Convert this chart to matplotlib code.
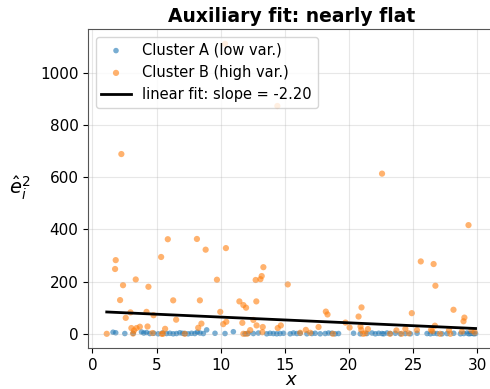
import numpy as np
import matplotlib
matplotlib.use("Agg")
import matplotlib.pyplot as plt

# Cluster A (low variance) - squared residuals near zero
a_x = [1.61, 1.82, 2.53, 3.18, 3.83, 4.01, 4.22, 4.48, 4.79, 5.13, 5.47, 5.78,
       6.04, 6.30, 6.56, 6.82, 7.03, 7.21, 7.47, 7.73, 7.99, 8.18, 8.39, 8.65,
       8.91, 9.56, 10.34, 10.99, 11.90, 12.16, 12.55, 12.94, 13.59, 13.85, 14.11,
       14.37, 14.63, 14.90, 15.42, 15.68, 15.94, 16.20, 16.72, 17.11, 17.37,
       17.76, 18.15, 18.41, 18.67, 18.93, 19.19, 20.36, 20.88, 21.40, 21.80,
       22.06, 22.32, 22.58, 22.71, 22.97, 23.23, 23.62, 24.01, 24.40, 24.79,
       25.31, 26.09, 26.35, 26.61, 26.87, 27.26, 27.65, 28.17, 28.69, 28.95,
       29.21, 29.35, 29.48, 29.61, 29.74, 29.87]
a_y = [6, 4, 1, 2, 7, 3, 5, 1, 2, 0, 3, 1,
       2, 0, 1, 4, 2, 1, 0, 2, 1, 6, 3, 1,
       15, 2, 1, 8, 0, 2, 1, 3, 0, 2, 1,
       0, 1, 2, 0, 3, 1, 2, 0, 1, 2,
       0, 1, 3, 2, 0, 1, 2, 0, 1, 3,
       0, 2, 1, 0, 3, 1, 2, 0, 1, 0,
       2, 1, 0, 2, 1, 0, 1, 2, 0, 1,
       3, 0, 1, 2, 0, 1]

# Cluster B (high variance)
b_x = [1.12, 1.77, 1.82, 2.16, 2.26, 2.39, 2.60, 2.97, 3.04, 3.17, 3.25, 3.38,
       3.44, 3.70, 4.22, 4.30, 4.37, 4.69, 4.77, 5.36, 5.41, 5.50, 5.67, 5.88,
       6.30, 6.53, 7.20, 8.15, 8.25, 8.38, 8.50, 8.83, 9.71, 9.97, 10.20, 10.34,
       10.41, 10.44, 11.46, 11.69, 11.77, 11.77, 11.98, 12.05, 12.30, 12.55,
       12.73, 12.78, 12.80, 13.10, 13.20, 13.25, 13.28, 13.33, 14.42, 14.45,
       14.69, 15.23, 16.20, 16.64, 16.98, 17.63, 18.20, 18.33, 18.75, 19.73,
       20.05, 20.75, 20.90, 20.96, 20.98, 21.10, 21.27, 21.48, 22.58, 23.20,
       23.70, 24.10, 24.40, 24.66, 24.90, 25.30, 25.60, 26.40, 26.50, 26.60,
       26.70, 26.74, 27.10, 27.80, 27.90, 28.15, 28.80, 28.93, 29.00, 29.32,
       29.55, 29.80]
b_y = [0, 248, 282, 129, 688, 186, 61, 82, 22, 1, 13, 208,
       22, 27, 84, 28, 180, 3, 71, 294, 0, 0, 19, 362,
       128, 54, 0, 363, 23, 128, 39, 322, 207, 84, 37, 1110,
       328, 46, 124, 42, 110, 0, 100, 0, 14, 53,
       206, 124, 32, 209, 221, 6, 26, 255, 872, 22,
       32, 189, 4, 15, 4, 26, 85, 74, 0, 43,
       24, 66, 28, 15, 101, 0, 2, 18, 613, 0,
       13, 0, 19, 2, 79, 14, 277, 15, 10, 267,
       31, 184, 0, 14, 0, 92, 8, 48, 62, 416,
       13, 5]

# auxiliary regression fit
fit_slope = -2.20
fit_intercept = 86.0

fig = plt.figure(figsize=(4.9, 3.89), dpi=100)
ax = fig.add_axes([88.3 / 490, 1 - 348.3 / 389, (494 - 88.3) / 490, (348.3 - 29.3) / 389])

ax.scatter(a_x, a_y, s=16, color='tab:blue', alpha=0.6, edgecolors='none',
           label='Cluster A (low var.)')
ax.scatter(b_x, b_y, s=20, color='tab:orange', alpha=0.6, edgecolors='none',
           label='Cluster B (high var.)')

all_x = np.array(a_x + b_x)
xs = np.linspace(all_x.min(), all_x.max(), 50)
ax.plot(xs, fit_intercept + fit_slope * xs, color='black', lw=2,
        label=f'linear fit: slope = {fit_slope:.2f}')

ax.set_title('Auxiliary fit: nearly flat', fontsize=13.5, fontweight='bold', pad=5)
ax.set_xlabel('$x$', fontsize=13, labelpad=-1.5)
ax.set_ylabel(r'$\hat{e}_i^2$', fontsize=14, rotation=0, labelpad=12)
ax.yaxis.set_label_coords(-0.17, 0.46)
ax.tick_params(labelsize=11)
ax.set_xticks([0, 5, 10, 15, 20, 25, 30])
ax.set_yticks([0, 200, 400, 600, 800, 1000])
ax.grid(True, alpha=0.3)
for sp in ax.spines.values():
    sp.set_color('#555555')
ax.legend(loc='upper left', fontsize=10.5)

fig.savefig('out.png', dpi=100)
